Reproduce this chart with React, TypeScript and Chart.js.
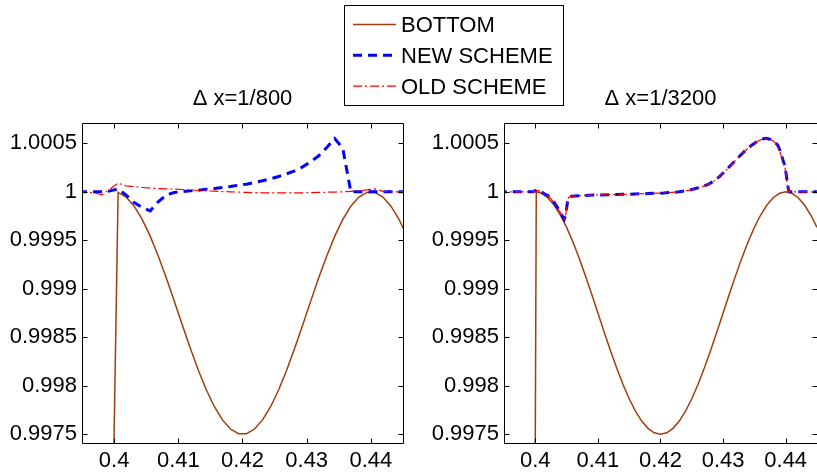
import React, { useEffect, useRef } from "react";
import { Chart, registerables } from "chart.js";

Chart.register(...registerables);

// ---------- labels / ticks ----------
const SERIES_LABELS = ["BOTTOM", "NEW SCHEME", "OLD SCHEME"];
const TITLE_LEFT = "\u0394 x=1/800";
const TITLE_RIGHT = "\u0394 x=1/3200";
const X_TICKS = [0.4, 0.41, 0.42, 0.43, 0.44];
const Y_TICKS = [0.9975, 0.998, 0.9985, 0.999, 0.9995, 1, 1.0005];
const X_MIN = 0.395;
const X_MAX = 0.445;
const Y_MIN = 0.99741;
const Y_MAX = 1.00071;

// ---------- left panel: dx = 1/800 (cell centres) ----------
const COARSE_X = [
  0.394375, 0.395625, 0.396875, 0.398125, 0.399375, 0.400625, 0.401875, 0.403125,
  0.404375, 0.405625, 0.406875, 0.408125, 0.409375, 0.410625, 0.411875, 0.413125,
  0.414375, 0.415625, 0.416875, 0.418125, 0.419375, 0.420625, 0.421875, 0.423125,
  0.424375, 0.425625, 0.426875, 0.428125, 0.429375, 0.430625, 0.431875, 0.433125,
  0.434375, 0.435625, 0.436875, 0.438125, 0.439375, 0.440625, 0.441875, 0.443125,
  0.444375, 0.445625,
];
const COARSE_BOTTOM = [
  0.995, 0.995, 0.995, 0.995, 0.995,
  0.999994, 0.999946, 0.999852, 0.999716, 0.999543, 0.999339, 0.999113, 0.998873,
  0.998627, 0.998387, 0.998161, 0.997957, 0.997784, 0.997648, 0.997554, 0.997506,
  0.997506, 0.997554, 0.997648, 0.997784, 0.997957, 0.998161, 0.998387, 0.998627,
  0.998873, 0.999113, 0.999339, 0.999543, 0.999716, 0.999852, 0.999946, 0.999994,
  0.999994, 0.999946, 0.999852, 0.999716, 0.999543,
];
const COARSE_NEW = [
  1.0, 1.0, 1.0, 1.0, 1.00001, 1.00003, 0.999966, 0.99989, 0.99984, 0.999804,
  0.999897, 0.999969, 0.999993, 1.000003, 1.00001, 1.000017, 1.000028, 1.000034,
  1.000045, 1.000055, 1.000069, 1.000079, 1.000096, 1.000114, 1.000134, 1.000158,
  1.000186, 1.000217, 1.000258, 1.00031, 1.000372, 1.000458, 1.00055, 1.000447,
  1.0, 1.0, 1.0, 1.0, 1.0, 1.0, 1.0, 1.0,
];
const COARSE_OLD = [
  1.0, 1.0, 0.99999, 0.99997, 1.00003, 1.00009, 1.000062, 1.000052, 1.000045,
  1.000038, 1.000034, 1.000031, 1.000028, 1.000024, 1.000021, 1.000014, 1.00001,
  1.000007, 1.000003, 1.0, 0.999997, 0.999994, 0.999992, 0.99999, 0.99999, 0.99999,
  0.99999, 0.99999, 0.99999, 0.999992, 0.999994, 0.999996, 0.999998, 1.0, 1.000005,
  1.00001, 1.00002, 1.00003, 1.000005, 1.0, 1.0, 1.0,
];

// ---------- right panel: dx = 1/3200 ----------
const FINE_BOTTOM_X = [
  0.394, 0.399844, 0.400156,
  0.401, 0.402, 0.403, 0.404, 0.405, 0.406, 0.407, 0.408, 0.409, 0.41,
  0.411, 0.412, 0.413, 0.414, 0.415, 0.416, 0.417, 0.418, 0.419, 0.42,
  0.421, 0.422, 0.423, 0.424, 0.425, 0.426, 0.427, 0.428, 0.429, 0.43,
  0.431, 0.432, 0.433, 0.434, 0.435, 0.436, 0.437, 0.438, 0.439, 0.44,
  0.441, 0.442, 0.443, 0.444, 0.445, 0.446,
];
const FINE_BOTTOM = [
  0.995, 0.995, 1.0,
  0.999985, 0.999939, 0.999864, 0.999761, 0.999634, 0.999485, 0.999317, 0.999136,
  0.998946, 0.99875, 0.998554, 0.998364, 0.998183, 0.998015, 0.997866, 0.997739,
  0.997636, 0.997561, 0.997515, 0.9975,
  0.997515, 0.997561, 0.997636, 0.997739, 0.997866, 0.998015, 0.998183, 0.998364,
  0.998554, 0.99875, 0.998946, 0.999136, 0.999317, 0.999485, 0.999634, 0.999761,
  0.999864, 0.999939, 0.999985, 1.0,
  0.999985, 0.999939, 0.999864, 0.999761, 0.999634, 0.999485,
];
const FINE_SCHEME_X = [
  0.394, 0.3996, 0.3999, 0.40016, 0.4005, 0.401, 0.4015, 0.402, 0.4025, 0.403,
  0.4035, 0.404, 0.4043, 0.40462, 0.4049, 0.40515, 0.4053, 0.4058, 0.407, 0.41,
  0.4125, 0.415, 0.418, 0.4205, 0.423, 0.4245, 0.4256, 0.4266, 0.4276, 0.4285,
  0.4295, 0.4305, 0.4315, 0.4325, 0.4335, 0.4345, 0.4355, 0.4362, 0.4369, 0.4376,
  0.4382, 0.4387, 0.4391, 0.4395, 0.4399, 0.4401, 0.4403, 0.44045, 0.44062, 0.446,
];
const FINE_NEW = [
  1.0, 1.0, 1.000008, 1.00002, 1.000015, 0.999998, 0.999978, 0.999962, 0.99993, 0.99989,
  0.999842, 0.999788, 0.999752, 0.999718, 0.99978, 0.9999, 0.99994, 0.999955, 0.999961, 0.999968,
  0.999972, 0.999976, 0.999982, 0.999988, 1.0, 1.000016, 1.000034, 1.000052, 1.000076, 1.00011,
  1.000162, 1.000225, 1.000292, 1.00036, 1.000422, 1.000478, 1.00052, 1.000544, 1.000552, 1.00054,
  1.000515, 1.000485, 1.000425, 1.00034, 1.00026, 1.00017, 1.00008, 1.00002, 1.0, 1.0,
];
const FINE_OLD = [
  1.0, 1.0, 1.000005, 1.000018, 1.000014, 0.999996, 0.999976, 0.99996, 0.999928, 0.999888,
  0.99984, 0.999786, 0.99975, 0.999716, 0.999785, 0.999905, 0.999942, 0.999955, 0.999961, 0.999968,
  0.999972, 0.999976, 0.999982, 0.999988, 1.0, 1.000016, 1.000034, 1.000052, 1.000076, 1.00011,
  1.000162, 1.000225, 1.000292, 1.00036, 1.000422, 1.000478, 1.00052, 1.000544, 1.000552, 1.00054,
  1.000515, 1.000482, 1.00041, 1.00032, 1.00024, 1.00014, 1.00006, 1.000015, 1.0, 1.0,
];

// ---------- styles ----------
const BROWN = "rgb(160,62,12)";
const BLUE = "rgb(0,0,255)";
const RED = "rgb(255,0,0)";
const FONT_FAMILY = '"Liberation Sans", Arial, Helvetica, sans-serif';
const FONT_SIZE = 22;

const pts = (xs: number[], ys: number[]) => xs.map((x, i) => ({ x, y: ys[i] }));

function makeDatasets(bx: number[], by: number[], sx: number[], sNew: number[], oldX: number[], sOld: number[]) {
  return [
    {
      label: SERIES_LABELS[0],
      data: pts(bx, by),
      borderColor: BROWN,
      borderWidth: 1.5,
      pointRadius: 0,
      fill: false,
      tension: 0,
      order: 2,
      clip: 0,
    },
    {
      label: SERIES_LABELS[1],
      data: pts(sx, sNew),
      borderColor: BLUE,
      borderWidth: 3,
      borderDash: [9, 6],
      pointRadius: 0,
      fill: false,
      tension: 0,
      order: 1,
      clip: 0,
    },
    {
      label: SERIES_LABELS[2],
      data: pts(oldX, sOld),
      borderColor: RED,
      borderWidth: 1.2,
      borderDash: [9, 3, 2, 3],
      pointRadius: 0,
      fill: false,
      tension: 0,
      order: 0,
      clip: 0,
    },
  ];
}

const framePlugin = {
  id: "matFrame",
  afterDraw(chart: any, _args: any, opts: any) {
    const { ctx, chartArea: a, scales } = chart;
    const xs = scales.x;
    const ys = scales.y;
    ctx.save();
    ctx.strokeStyle = "#000";
    ctx.lineWidth = 1;
    ctx.setLineDash([]);
    const l = Math.round(a.left) + 0.5;
    const r = Math.round(a.right) + 0.5;
    const t = Math.round(a.top) + 0.5;
    const b = Math.round(a.bottom) + 0.5;
    ctx.beginPath();
    ctx.rect(l, t, r - l, b - t);
    const tl = 5;
    X_TICKS.forEach((v) => {
      const p = Math.round(xs.getPixelForValue(v)) + 0.5;
      ctx.moveTo(p, t);
      ctx.lineTo(p, t + tl);
      ctx.moveTo(p, b);
      ctx.lineTo(p, b - tl);
    });
    Y_TICKS.forEach((v) => {
      const p = Math.round(ys.getPixelForValue(v)) + 0.5;
      ctx.moveTo(l, p);
      ctx.lineTo(l + tl, p);
      ctx.moveTo(r, p);
      ctx.lineTo(r - tl, p);
    });
    ctx.stroke();
    if (opts && opts.title) {
      ctx.fillStyle = "#000";
      ctx.font = `${FONT_SIZE}px ${FONT_FAMILY}`;
      ctx.textAlign = "center";
      ctx.textBaseline = "alphabetic";
      ctx.fillText(opts.title, (a.left + a.right) / 2, a.top - 18);
    }
    ctx.restore();
  },
};

const legendPlugin = {
  id: "boxLegend",
  afterDraw(chart: any, _args: any, opts: any) {
    if (!opts || !opts.show) return;
    const ctx = chart.ctx;
    ctx.save();
    ctx.fillStyle = "#fff";
    ctx.fillRect(344, 5, 219, 100);
    ctx.strokeStyle = "#000";
    ctx.lineWidth = 1;
    ctx.setLineDash([]);
    ctx.strokeRect(344.5, 5.5, 219, 100);
    chart.data.datasets.forEach((ds: any, i: number) => {
      const yc = 24.5 + i * 30.8;
      ctx.beginPath();
      ctx.setLineDash(ds.borderDash || []);
      ctx.strokeStyle = ds.borderColor;
      ctx.lineWidth = ds.borderWidth;
      ctx.moveTo(353, yc);
      ctx.lineTo(396, yc);
      ctx.stroke();
      ctx.setLineDash([]);
      ctx.fillStyle = "#000";
      ctx.font = `${FONT_SIZE}px ${FONT_FAMILY}`;
      ctx.textAlign = "left";
      ctx.textBaseline = "alphabetic";
      ctx.fillText(ds.label, 401, yc + 7.8);
    });
    ctx.restore();
  },
};

function makeConfig(datasets: any[], padLeft: number, padRight: number, title: string, showLegend: boolean): any {
  const tickFont = { family: FONT_FAMILY, size: FONT_SIZE };
  return {
    type: "line",
    data: { datasets },
    plugins: [framePlugin, legendPlugin],
    options: {
      responsive: false,
      animation: false,
      events: [],
      layout: { padding: { left: padLeft, right: padRight, top: 123, bottom: 0 } },
      plugins: {
        legend: { display: false },
        title: { display: false },
        tooltip: { enabled: false },
        matFrame: { title },
        boxLegend: { show: showLegend },
      },
      scales: {
        x: {
          type: "linear",
          min: X_MIN,
          max: X_MAX,
          grid: { display: false, drawTicks: false },
          border: { display: false },
          afterBuildTicks: (s: any) => {
            s.ticks = X_TICKS.map((v) => ({ value: v }));
          },
          afterFit: (s: any) => {
            s.height = 33;
          },
          ticks: {
            font: tickFont,
            color: "#000",
            padding: 5,
            maxRotation: 0,
            autoSkip: false,
            callback: (v: any) => String(v),
          },
        },
        y: {
          type: "linear",
          min: Y_MIN,
          max: Y_MAX,
          grid: { display: false, drawTicks: false },
          border: { display: false },
          afterBuildTicks: (s: any) => {
            s.ticks = Y_TICKS.map((v) => ({ value: v }));
          },
          afterFit: (s: any) => {
            s.width = 82;
          },
          ticks: {
            font: tickFont,
            color: "#000",
            padding: 5,
            autoSkip: false,
            callback: (v: any) => String(v),
          },
        },
      },
    },
  };
}

export default function App() {
  const leftRef = useRef<HTMLCanvasElement>(null);
  const rightRef = useRef<HTMLCanvasElement>(null);

  useEffect(() => {
    const left = new Chart(
      leftRef.current as HTMLCanvasElement,
      makeConfig(
        makeDatasets(COARSE_X, COARSE_BOTTOM, COARSE_X, COARSE_NEW, COARSE_X, COARSE_OLD),
        0,
        414,
        TITLE_LEFT,
        true
      )
    );
    const right = new Chart(
      rightRef.current as HTMLCanvasElement,
      makeConfig(
        makeDatasets(FINE_BOTTOM_X, FINE_BOTTOM, FINE_SCHEME_X, FINE_NEW, FINE_SCHEME_X, FINE_OLD),
        422,
        -7,
        TITLE_RIGHT,
        false
      )
    );
    return () => {
      left.destroy();
      right.destroy();
    };
  }, []);

  return (
    <div style={{ position: "fixed", left: 0, top: 0, width: 817, height: 476, background: "#fff", overflow: "hidden" }}>
      <canvas ref={leftRef} width={817} height={476} style={{ position: "absolute", left: 0, top: 0 }} />
      <canvas ref={rightRef} width={817} height={476} style={{ position: "absolute", left: 0, top: 0 }} />
    </div>
  );
}
